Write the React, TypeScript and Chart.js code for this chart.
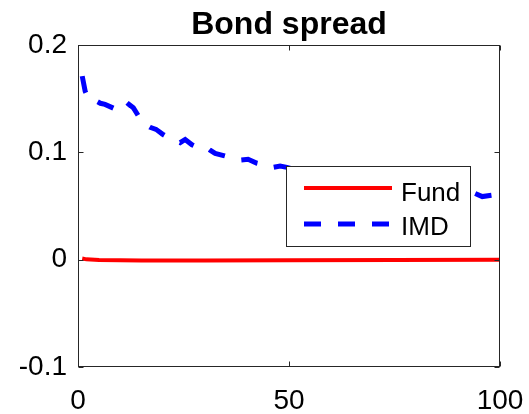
import React, { useEffect, useRef } from "react";
import { Chart, registerables } from "chart.js";

Chart.register(...registerables);

const titleText = "Bond spread";
const seriesNames = ["Fund", "IMD"];
const xTicks = [0, 50, 100];
const yTicks = [-0.1, 0, 0.1, 0.2];

const fundX = [1, 2, 5, 15, 30, 50, 75, 100];
const fundY = [0.001, 0.0003, -0.0002, -0.0008, -0.0008, -0.0005, -0.0002, 0.0];

const imdX = [1.0, 1.7, 2.5, 3.0, 4.0, 5.3, 6.4, 8.5, 10.7, 12.1, 13.1, 15.3, 17.1, 18.5, 20, 21.8, 24.2, 25.4, 27, 28.9, 30.5, 31.3, 32.5, 34.5, 36.4, 38.4, 40.3, 42.3, 44.3, 45.9, 47.9, 49.5, 55, 62, 70, 78, 86, 93.2, 95.8, 98, 100];
const imdY = [0.171, 0.157, 0.15, 0.148, 0.1485, 0.1457, 0.1447, 0.141, 0.138, 0.1447, 0.1416, 0.1276, 0.1233, 0.1214, 0.117, 0.1128, 0.109, 0.112, 0.107, 0.1037, 0.1044, 0.102, 0.099, 0.097, 0.095, 0.0928, 0.0935, 0.09, 0.0882, 0.0857, 0.0872, 0.086, 0.08, 0.076, 0.072, 0.068, 0.065, 0.0633, 0.0588, 0.06, 0.0596];

const FONT = "'Liberation Sans', Arial, Helvetica, sans-serif";
const AX = "#262626";

const overlay = {
  id: "overlay",
  afterDatasetsDraw(chart: any) {
    const ctx = chart.ctx;
    const { left, right, top, bottom } = chart.chartArea;
    const xs = chart.scales.x;
    const ys = chart.scales.y;
    ctx.save();
    ctx.strokeStyle = AX;
    ctx.lineWidth = 1;
    const L = Math.round(left) + 0.5, R = Math.round(right) - 0.5;
    const T = Math.round(top) + 0.5, B = Math.round(bottom) - 0.5;
    ctx.strokeRect(L, T, R - L, B - T);
    const tl = 5;
    ctx.beginPath();
    xTicks.forEach((v) => {
      const px = Math.round(xs.getPixelForValue(v)) + 0.5;
      ctx.moveTo(px, B); ctx.lineTo(px, B - tl);
      ctx.moveTo(px, T); ctx.lineTo(px, T + tl);
    });
    yTicks.forEach((v) => {
      const py = Math.round(ys.getPixelForValue(v)) + 0.5;
      ctx.moveTo(L, py); ctx.lineTo(L + tl, py);
      ctx.moveTo(R, py); ctx.lineTo(R - tl, py);
    });
    ctx.stroke();

    // title
    ctx.fillStyle = "#000";
    ctx.font = `bold 32px ${FONT}`;
    ctx.textAlign = "center";
    ctx.textBaseline = "alphabetic";
    ctx.fillText(titleText, (left + right) / 2, 34);

    // legend
    const lx0 = 286, ly0 = 166, lx1 = 471, ly1 = 247;
    ctx.fillStyle = "#fff";
    ctx.fillRect(lx0, ly0, lx1 - lx0, ly1 - ly0);
    ctx.strokeStyle = AX;
    ctx.lineWidth = 1;
    ctx.strokeRect(lx0 + 0.5, ly0 + 0.5, lx1 - lx0 - 1, ly1 - ly0 - 1);
    const ds = chart.data.datasets;
    const rows = [188, 224];
    const bases = [200.5, 235];
    rows.forEach((y, i) => {
      const d = ds[i];
      ctx.strokeStyle = d.borderColor;
      ctx.lineWidth = d.borderWidth;
      ctx.lineCap = "butt";
      ctx.setLineDash(d.borderDash || []);
      ctx.beginPath();
      ctx.moveTo(304, y);
      ctx.lineTo(392, y);
      ctx.stroke();
      ctx.setLineDash([]);
      ctx.fillStyle = "#000";
      ctx.font = `26px ${FONT}`;
      ctx.textAlign = "left";
      ctx.textBaseline = "alphabetic";
      ctx.fillText(d.label, 401, bases[i]);
    });
    ctx.restore();
  },
};

export default function App() {
  const ref = useRef<HTMLCanvasElement>(null);
  useEffect(() => {
    document.body.style.margin = "0";
    const c = ref.current!;
    const chart = new Chart(c, {
      type: "line",
      data: {
        datasets: [
          {
            label: seriesNames[0],
            data: fundX.map((x, i) => ({ x, y: fundY[i] })),
            borderColor: "#ff0000",
            borderWidth: 4,
            pointRadius: 0,
            tension: 0,
            fill: false,
          },
          {
            label: seriesNames[1],
            data: imdX.map((x, i) => ({ x, y: imdY[i] })),
            borderColor: "#0000ff",
            borderWidth: 5,
            borderDash: [17, 17],
            borderCapStyle: "butt",
            pointRadius: 0,
            tension: 0,
            fill: false,
          },
        ],
      },
      options: {
        animation: false,
        responsive: false,
        maintainAspectRatio: false,
        layout: { padding: { top: 45, right: 29, left: 0, bottom: 0 } },
        plugins: { legend: { display: false }, title: { display: false }, tooltip: { enabled: false } },
        scales: {
          x: {
            type: "linear",
            min: 0,
            max: 100,
            afterBuildTicks: (s: any) => { s.ticks = xTicks.map((v) => ({ value: v })); },
            afterFit: (s: any) => { s.height = 47; s.paddingLeft = 0; s.paddingRight = 0; },
            grid: { display: false, drawTicks: false },
            border: { display: false },
            ticks: { color: "#000", font: { family: FONT, size: 28 }, padding: 17, maxRotation: 0 },
          },
          y: {
            type: "linear",
            min: -0.1,
            max: 0.2,
            afterBuildTicks: (s: any) => { s.ticks = yTicks.map((v) => ({ value: v })); },
            afterFit: (s: any) => { s.width = 78; s.paddingTop = 0; s.paddingBottom = 0; },
            grid: { display: false, drawTicks: false },
            border: { display: false },
            ticks: {
              color: "#000",
              font: { family: FONT, size: 28 },
              padding: 11,
              callback: (v: any) => String(Number(Number(v).toFixed(2))),
            },
          },
        },
      },
      plugins: [overlay],
    } as any);
    return () => chart.destroy();
  }, []);
  return (
    <div style={{ position: "absolute", left: 0, top: 0, width: 529, height: 414 }}>
      <canvas ref={ref} width={529} height={414} style={{ width: 529, height: 414 }} />
    </div>
  );
}
